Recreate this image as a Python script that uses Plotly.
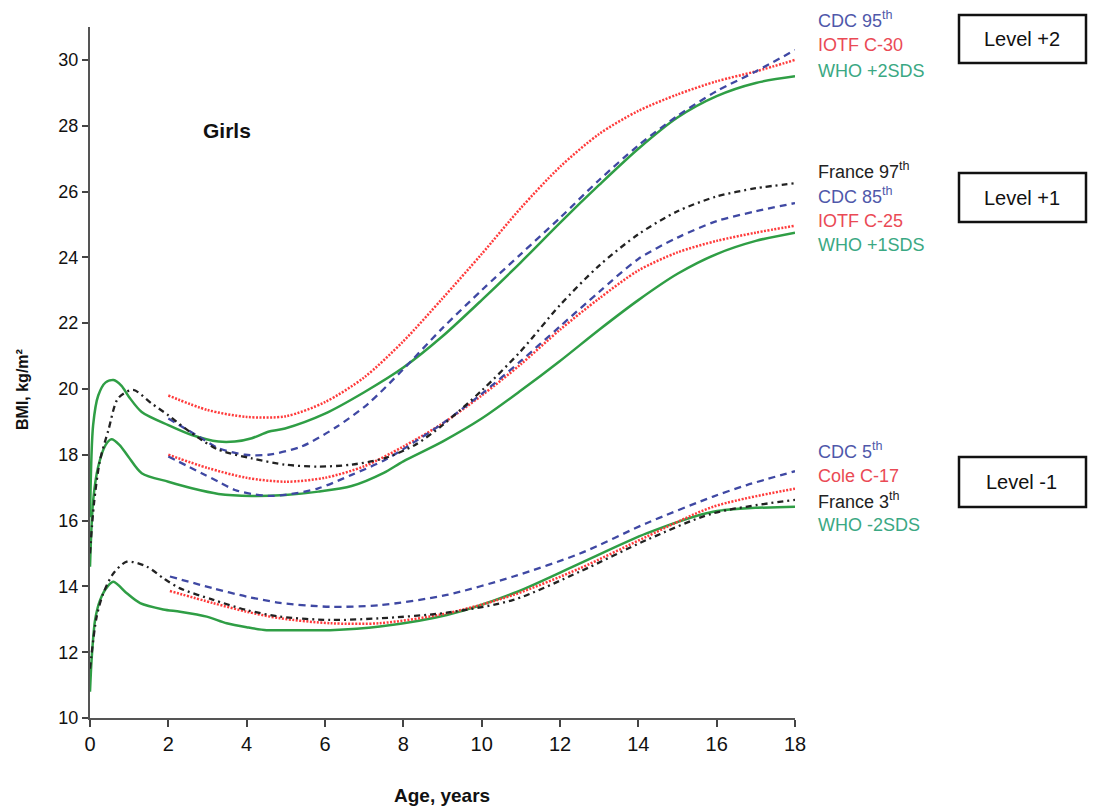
import plotly.graph_objects as go

# ---------------- data ----------------
who2_age = [0, 0.08, 0.21, 0.4, 0.6, 0.8, 1.0, 1.32, 2.0, 2.6, 3.28, 3.7, 4.13, 4.55, 4.98, 6, 7, 8, 9, 10, 11, 12, 13, 14, 15, 16, 17, 18]
who2_val = [16.1, 18.9, 19.8, 20.2, 20.27, 20.1, 19.75, 19.3, 18.9, 18.6, 18.4, 18.4, 18.5, 18.7, 18.8, 19.25, 19.9, 20.65, 21.6, 22.7, 23.85, 25.05, 26.2, 27.3, 28.25, 28.9, 29.3, 29.5]

who1_age = [0, 0.08, 0.21, 0.4, 0.55, 0.75, 0.98, 1.32, 2.0, 2.6, 3.28, 4.13, 4.98, 5.83, 6.68, 7.5, 8, 9, 10, 11, 12, 13, 14, 15, 16, 17, 18]
who1_val = [14.6, 16.6, 17.64, 18.3, 18.47, 18.3, 17.94, 17.44, 17.18, 16.98, 16.81, 16.75, 16.78, 16.88, 17.05, 17.45, 17.8, 18.4, 19.1, 19.95, 20.85, 21.8, 22.7, 23.5, 24.1, 24.5, 24.75]

whom2_age = [0, 0.04, 0.13, 0.26, 0.45, 0.6, 0.94, 1.28, 1.87, 2.3, 2.98, 3.49, 4.0, 4.51, 5.28, 6.13, 7.4, 9.11, 10.81, 12.51, 14.21, 15.91, 18]
whom2_val = [10.8, 11.76, 12.98, 13.59, 14.0, 14.14, 13.79, 13.49, 13.3, 13.23, 13.08, 12.88, 12.76, 12.67, 12.67, 12.67, 12.78, 13.13, 13.79, 14.70, 15.61, 16.27, 16.42]

fr97_age = [0, 0.1, 0.25, 0.47, 0.72, 1.1, 1.57, 2.0, 2.43, 2.85, 3.28, 4.13, 4.98, 5.83, 6.68, 7.53, 8.3, 9, 10, 11, 12, 13, 14, 15, 16, 17, 18]
fr97_val = [15.0, 16.5, 17.8, 18.75, 19.72, 19.97, 19.56, 19.2, 18.8, 18.45, 18.15, 17.89, 17.7, 17.64, 17.7, 17.9, 18.3, 18.9, 19.95, 21.15, 22.55, 23.75, 24.7, 25.4, 25.85, 26.1, 26.25]

fr3_age = [0, 0.17, 0.34, 0.6, 0.94, 1.45, 1.87, 2.3, 3.15, 4.0, 4.85, 6.13, 7.4, 9.11, 10.81, 12.51, 14.21, 15.91, 18]
fr3_val = [11.5, 13.08, 13.79, 14.4, 14.75, 14.6, 14.25, 13.94, 13.59, 13.28, 13.08, 12.98, 13.03, 13.2, 13.59, 14.45, 15.41, 16.22, 16.63]

cdc95_age = [2.0, 2.85, 3.28, 3.96, 4.55, 5.4, 6.3, 7.1, 8, 9, 10, 11, 12, 13, 14, 15, 16, 17, 18]
cdc95_val = [19.1, 18.5, 18.2, 18.0, 18.0, 18.25, 18.85, 19.55, 20.6, 21.85, 23.0, 24.1, 25.2, 26.35, 27.4, 28.3, 29.05, 29.65, 30.3]

cdc85_age = [2.0, 2.85, 3.28, 3.7, 4.13, 4.55, 4.98, 5.83, 6.68, 7.53, 8.3, 9, 10, 11, 12, 13, 14, 15, 16, 17, 18]
cdc85_val = [17.95, 17.44, 17.18, 16.93, 16.81, 16.75, 16.78, 16.98, 17.39, 17.84, 18.4, 18.95, 19.85, 20.85, 21.9, 22.95, 23.95, 24.6, 25.1, 25.4, 25.65]

cdc5_age = [2.04, 3.15, 4.0, 4.85, 6.13, 7.4, 9.11, 10.81, 12.51, 14.21, 15.91, 16.77, 18]
cdc5_val = [14.3, 13.94, 13.69, 13.5, 13.38, 13.43, 13.74, 14.30, 15.0, 15.92, 16.73, 17.08, 17.5]

iotf30_age = [2, 3, 4, 5, 6, 7, 8, 9, 10, 11, 12, 13, 14, 15, 16, 17, 18]
iotf30_val = [19.8, 19.36, 19.15, 19.17, 19.6, 20.35, 21.45, 22.75, 24.1, 25.5, 26.75, 27.75, 28.45, 28.95, 29.35, 29.65, 30.0]

iotf25_age = [2, 3, 4, 5, 6, 7, 8, 9, 10, 11, 12, 13, 14, 15, 16, 17, 18]
iotf25_val = [18.0, 17.6, 17.3, 17.18, 17.3, 17.65, 18.25, 18.95, 19.8, 20.75, 21.8, 22.75, 23.6, 24.15, 24.5, 24.75, 24.96]

cole17_age = [2.04, 3.15, 4.0, 4.85, 6.13, 7.4, 9.11, 10.81, 12.51, 14.21, 15.91, 18]
cole17_val = [13.86, 13.49, 13.23, 13.03, 12.88, 12.88, 13.18, 13.74, 14.55, 15.51, 16.42, 16.97]

x_ticks = [0, 2, 4, 6, 8, 10, 12, 14, 16, 18]
y_ticks = [10, 12, 14, 16, 18, 20, 22, 24, 26, 28, 30]

# ---------------- styles ----------------
BLUE = "#3f48a3"
RED = "#ff3b3b"
GREEN = "#2f9e45"
BLACK = "#222222"
T_BLUE = "#4f58aa"
T_RED = "#ea4a55"
T_GREEN = "#3aa883"

fig = go.Figure()

def add(x, y, color, dash, width=2.3):
    fig.add_trace(go.Scatter(x=x, y=y, mode="lines",
                             line=dict(color=color, dash=dash, width=width,
                                       shape="spline", smoothing=0.8),
                             showlegend=False, hoverinfo="skip"))

add(who2_age, who2_val, GREEN, "solid", 2.5)
add(who1_age, who1_val, GREEN, "solid", 2.5)
add(whom2_age, whom2_val, GREEN, "solid", 2.5)
add(iotf30_age, iotf30_val, RED, "2px,1.5px", 2.5)
add(iotf25_age, iotf25_val, RED, "2px,1.5px", 2.5)
add(cole17_age, cole17_val, RED, "2px,1.5px", 2.5)
add(cdc95_age, cdc95_val, BLUE, "7px,5px")
add(cdc85_age, cdc85_val, BLUE, "7px,5px")
add(cdc5_age, cdc5_val, BLUE, "7px,5px")
add(fr97_age, fr97_val, BLACK, "6px,4px,2px,4px")
add(fr3_age, fr3_val, BLACK, "6px,4px,2px,4px")

L, R, T, B = 90, 299, 27, 93
W, H = 1094, 811
PW, PH = W - L - R, H - T - B

def px(xp):
    return (xp - L) / PW

def py(yp):
    return (H - B - yp) / PH

ann = []
label_font = "Liberation Sans, Arial, sans-serif"
groups = [
    [("CDC 95<sup>th</sup>", T_BLUE, 19), ("IOTF C-30", T_RED, 45), ("WHO +2SDS", T_GREEN, 71)],
    [("France 97<sup>th</sup>", BLACK, 171), ("CDC 85<sup>th</sup>", T_BLUE, 196), ("IOTF C-25", T_RED, 221), ("WHO +1SDS", T_GREEN, 245)],
    [("CDC 5<sup>th</sup>", T_BLUE, 451), ("Cole C-17", T_RED, 476), ("France 3<sup>th</sup>", BLACK, 501), ("WHO -2SDS", T_GREEN, 525)],
]
for g in groups:
    for text, col, yy in g:
        ann.append(dict(x=px(816), y=py(yy), xref="paper", yref="paper", text=text,
                        showarrow=False, xanchor="left", yanchor="middle",
                        font=dict(family=label_font, size=18, color=col)))

boxes = [("Level +2", 15, 63), ("Level +1", 173, 222), ("Level -1", 457, 507)]
shapes = []
for text, y0, y1 in boxes:
    shapes.append(dict(type="rect", xref="paper", yref="paper",
                       x0=px(959), x1=px(1086), y0=py(y1), y1=py(y0),
                       line=dict(color="#111", width=2.5), fillcolor="white"))
    ann.append(dict(x=px(1022), y=py((y0 + y1) / 2), xref="paper", yref="paper", text=text,
                    showarrow=False, xanchor="center", yanchor="middle",
                    font=dict(family=label_font, size=20, color="#111")))

ann.append(dict(x=px(227), y=py(130), xref="paper", yref="paper", text="<b>Girls</b>",
                showarrow=False, xanchor="center", yanchor="middle",
                font=dict(family=label_font, size=21, color="#111")))
ann.append(dict(x=px(22), y=py(390), xref="paper", yref="paper", text="<b>BMI, kg/m²</b>",
                showarrow=False, xanchor="center", yanchor="middle", textangle=-90,
                font=dict(family=label_font, size=16, color="#111")))
ann.append(dict(x=px(442), y=py(795), xref="paper", yref="paper", text="<b>Age, years</b>",
                showarrow=False, xanchor="center", yanchor="middle",
                font=dict(family="Liberation Sans Narrow, Liberation Sans, Arial", size=19, color="#111")))

fig.update_layout(
    width=W, height=H,
    margin=dict(l=L, r=R, t=T, b=B),
    paper_bgcolor="white", plot_bgcolor="white",
    annotations=ann, shapes=shapes,
    xaxis=dict(range=[0, 18], tickvals=x_ticks, ticktext=[str(v) for v in x_ticks],
               showgrid=False, zeroline=False, showline=True, linecolor="#555", linewidth=2,
               ticks="outside", ticklen=7, tickwidth=2, tickcolor="#444",
               tickfont=dict(family="Liberation Sans Narrow, Liberation Sans, Arial", size=20, color="#111")),
    yaxis=dict(range=[10, 31], tickvals=y_ticks, ticktext=[str(v) for v in y_ticks],
               showgrid=False, zeroline=False, showline=True, linecolor="#555", linewidth=2,
               ticks="outside", ticklen=6, tickwidth=2, tickcolor="#444",
               tickfont=dict(family=label_font, size=18, color="#111")),
)

fig.write_html("out.html")
